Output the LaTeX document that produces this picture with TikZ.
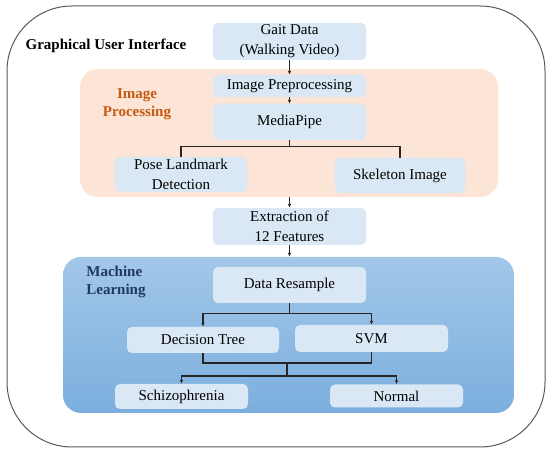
\documentclass[tikz,border=0pt]{standalone}
\usepackage{fontspec}
\setmainfont{Liberation Serif}
\usetikzlibrary{arrows.meta}
\definecolor{boxblue}{HTML}{DAE8F5}
\definecolor{peach}{HTML}{FCE4D6}
\definecolor{mltop}{HTML}{A2C7E9}
\definecolor{mlbottom}{HTML}{7CAFDE}
\definecolor{iporange}{HTML}{C55A11}
\definecolor{mlnavy}{HTML}{1F3864}
\tikzset{
	stage/.style={fill=boxblue, rounded corners=5pt, inner sep=0pt, align=center, font=\fontsize{15}{20}\selectfont},
	region/.style={rounded corners=18pt, inner sep=0pt},
	flow/.style={draw=black!85, line width=1.1pt, -{Latex[length=4pt, width=3.5pt]}},
	link/.style={draw=black!85, line width=1.1pt},
	caption/.style={font=\fontsize{15}{18}\selectfont\bfseries},
}

\begin{document}
\begin{tikzpicture}[x=1pt, y=-1pt]
	\useasboundingbox (0,0) rectangle (550,454);
	\draw[black!65, line width=1pt, rounded corners=65pt] (7,6) rectangle (545,447);
	\node[caption] (gui) at (106,46) {Graphical User Interface};

	% regions
	\node[region, fill=peach, minimum width=418pt, minimum height=128pt] (improc) at (289,133) {};
	\node[region, top color=mltop, bottom color=mlbottom, minimum width=451pt, minimum height=156pt] (mlregion) at (288.5,335) {};
	\node[caption, iporange, align=center] (iptitle) at (137,104) {Image\\Processing};
	\node[caption, mlnavy, align=left] (mltitle) at (116,282) {Machine\\Learning};

	% stages
	\node[stage, minimum width=153pt, minimum height=37pt] (gait) at (289.5,41.5) {Gait Data\\(Walking Video)};
	\node[stage, minimum width=153pt, minimum height=22pt] (imgpre) at (289.5,86) {Image Preprocessing};
	\node[stage, minimum width=153pt, minimum height=36pt] (mediapipe) at (289.5,122) {MediaPipe};
	\node[stage, minimum width=132pt, minimum height=35pt] (pose) at (181,174.5) {Pose Landmark\\Detection};
	\node[stage, minimum width=130pt, minimum height=35pt] (skeleton) at (400,175.5) {Skeleton Image};
	\node[stage, minimum width=153pt, minimum height=37pt] (extract) at (289.5,226.5) {Extraction of\\12 Features};
	\node[stage, minimum width=153pt, minimum height=36pt] (datares) at (289.5,285) {Data Resample};
	\node[stage, minimum width=152pt, minimum height=26pt] (dtree) at (203,340) {Decision Tree};
	\node[stage, minimum width=153pt, minimum height=27pt] (svm) at (371.5,338.5) {SVM};
	\node[stage, minimum width=133pt, minimum height=25pt] (schizo) at (181.5,396.5) {Schizophrenia};
	\node[stage, minimum width=133pt, minimum height=23pt] (normal) at (396.5,396) {Normal};

	% connectors
	\draw[flow] (gait) -- (imgpre);
	\draw[flow] (imgpre) -- (mediapipe);
	\draw[link] (mediapipe.south) -- ++(0,6) coordinate (mpfork);
	\draw[link] (pose.north) |- (mpfork) -| (skeleton.north);
	\draw[flow] (improc.south -| extract.north) -- (extract.north);
	\draw[flow] (extract.south) -- (extract.south |- mlregion.north);
	\draw[link] (datares.south) -- ++(0,10) coordinate (mlfork);
	\draw[flow] (mlfork) -| (dtree.north);
	\draw[flow] (mlfork) -| (svm.north);
	\coordinate (mlmerge) at (287,363);
	\draw[link] (dtree.south) |- (mlmerge) -| (svm.south);
	\draw[link] (mlmerge) -- ++(0,13) coordinate (outfork);
	\draw[flow] (outfork) -| (schizo.north);
	\draw[flow] (outfork) -| (normal.north);
\end{tikzpicture}
\end{document}
